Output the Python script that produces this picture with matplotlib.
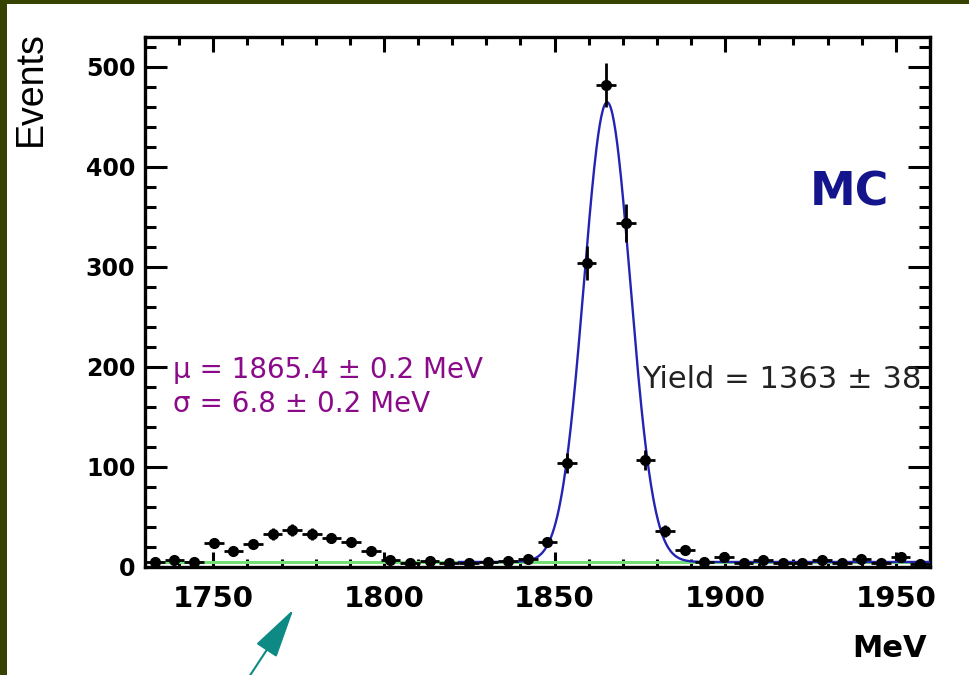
import matplotlib.pyplot as plt
import numpy as np
from matplotlib.patches import Rectangle, FancyArrowPatch

# histogram: 40 bins from 1730 to 1960 MeV
bin_edges = np.linspace(1730, 1960, 41)
counts = [5, 7, 5, 24, 16, 23, 33, 37, 33, 29,
          25, 16, 7, 4, 6, 4, 4, 5, 6, 8,
          25, 104, 304, 482, 344, 107, 36, 17, 5, 10,
          4, 7, 4, 4, 7, 4, 8, 4, 10, 3]

# fit results
mu = 1865.4
sigma = 6.8
yield_sig = 1363
bkg_level = 5

centers = 0.5 * (bin_edges[1:] + bin_edges[:-1])
bw = bin_edges[1] - bin_edges[0]
counts = np.array(counts)

fig = plt.figure(figsize=(9.7, 6.75), dpi=100, facecolor='#364200')
fig.patches.append(Rectangle((7/970, 0), 1, 1 - 4/675, transform=fig.transFigure,
                             facecolor='white', edgecolor='none', zorder=-10))
ax = fig.add_axes([145/970, 0.16, 785/970, 530/675])

# background and signal fit
ax.plot([1730, 1960], [bkg_level, bkg_level], color='#72e072', lw=2.2, zorder=2)
xf = np.linspace(1822, 1960, 600)
gaus = yield_sig * bw / (np.sqrt(2*np.pi) * sigma) * np.exp(-0.5*((xf - mu)/sigma)**2)
ax.plot(xf, gaus + bkg_level, color='#2424b4', lw=1.7, zorder=3)

ax.errorbar(centers, counts, yerr=np.sqrt(counts), xerr=bw/2, fmt='o', color='black',
            ms=7, elinewidth=2, capsize=0, zorder=4)

ax.set_xlim(1730, 1960)
ax.set_ylim(0, 530)
ax.set_xticks([1750, 1800, 1850, 1900, 1950])
ax.set_xticks(np.arange(1730, 1961, 10), minor=True)
ax.set_yticks([0, 100, 200, 300, 400, 500])
ax.set_yticks(np.arange(0, 531, 20), minor=True)
ax.tick_params(axis='both', which='both', direction='in', top=True, right=True, width=2.2)
ax.tick_params(axis='x', which='major', length=11, pad=13, labelsize=21)
ax.tick_params(axis='x', which='minor', length=5.5)
ax.tick_params(axis='y', which='major', length=16, pad=7, labelsize=17)
ax.tick_params(axis='y', which='minor', length=8)
for lab in ax.get_xticklabels() + ax.get_yticklabels():
    lab.set_fontweight('bold')
for s in ax.spines.values():
    s.set_linewidth(2.4)

ax.text(1738.2, 189, 'μ = 1865.4 ± 0.2 MeV', color='#8a0a8a', fontsize=20, va='baseline')
ax.text(1738.2, 155, 'σ = 6.8 ± 0.2 MeV', color='#8a0a8a', fontsize=20, va='baseline')
ax.text(1875.6, 179, 'Yield = 1363 ± 38', color='#222222', fontsize=22, va='baseline', clip_on=False)
ax.text(1924.8, 362, 'MC', color='#14148c', fontsize=33, fontweight='bold', va='baseline')

fig.text(31/970, 1 - 89/675, 'Events', rotation=90, ha='center', va='center',
         fontsize=27, family='Liberation Sans')
fig.text(927/970, 1 - 657/675, 'MeV', ha='right', va='baseline', fontsize=22, fontweight='bold')

arr = FancyArrowPatch((247/970, 1 - 680/675), (295/970, 1 - 607/675), transform=fig.transFigure,
                      arrowstyle='-|>,head_length=0.45,head_width=0.11', mutation_scale=70,
                      color='#0e8a84', lw=1.5)
fig.patches.append(arr)

fig.savefig('out.png', dpi=100)
